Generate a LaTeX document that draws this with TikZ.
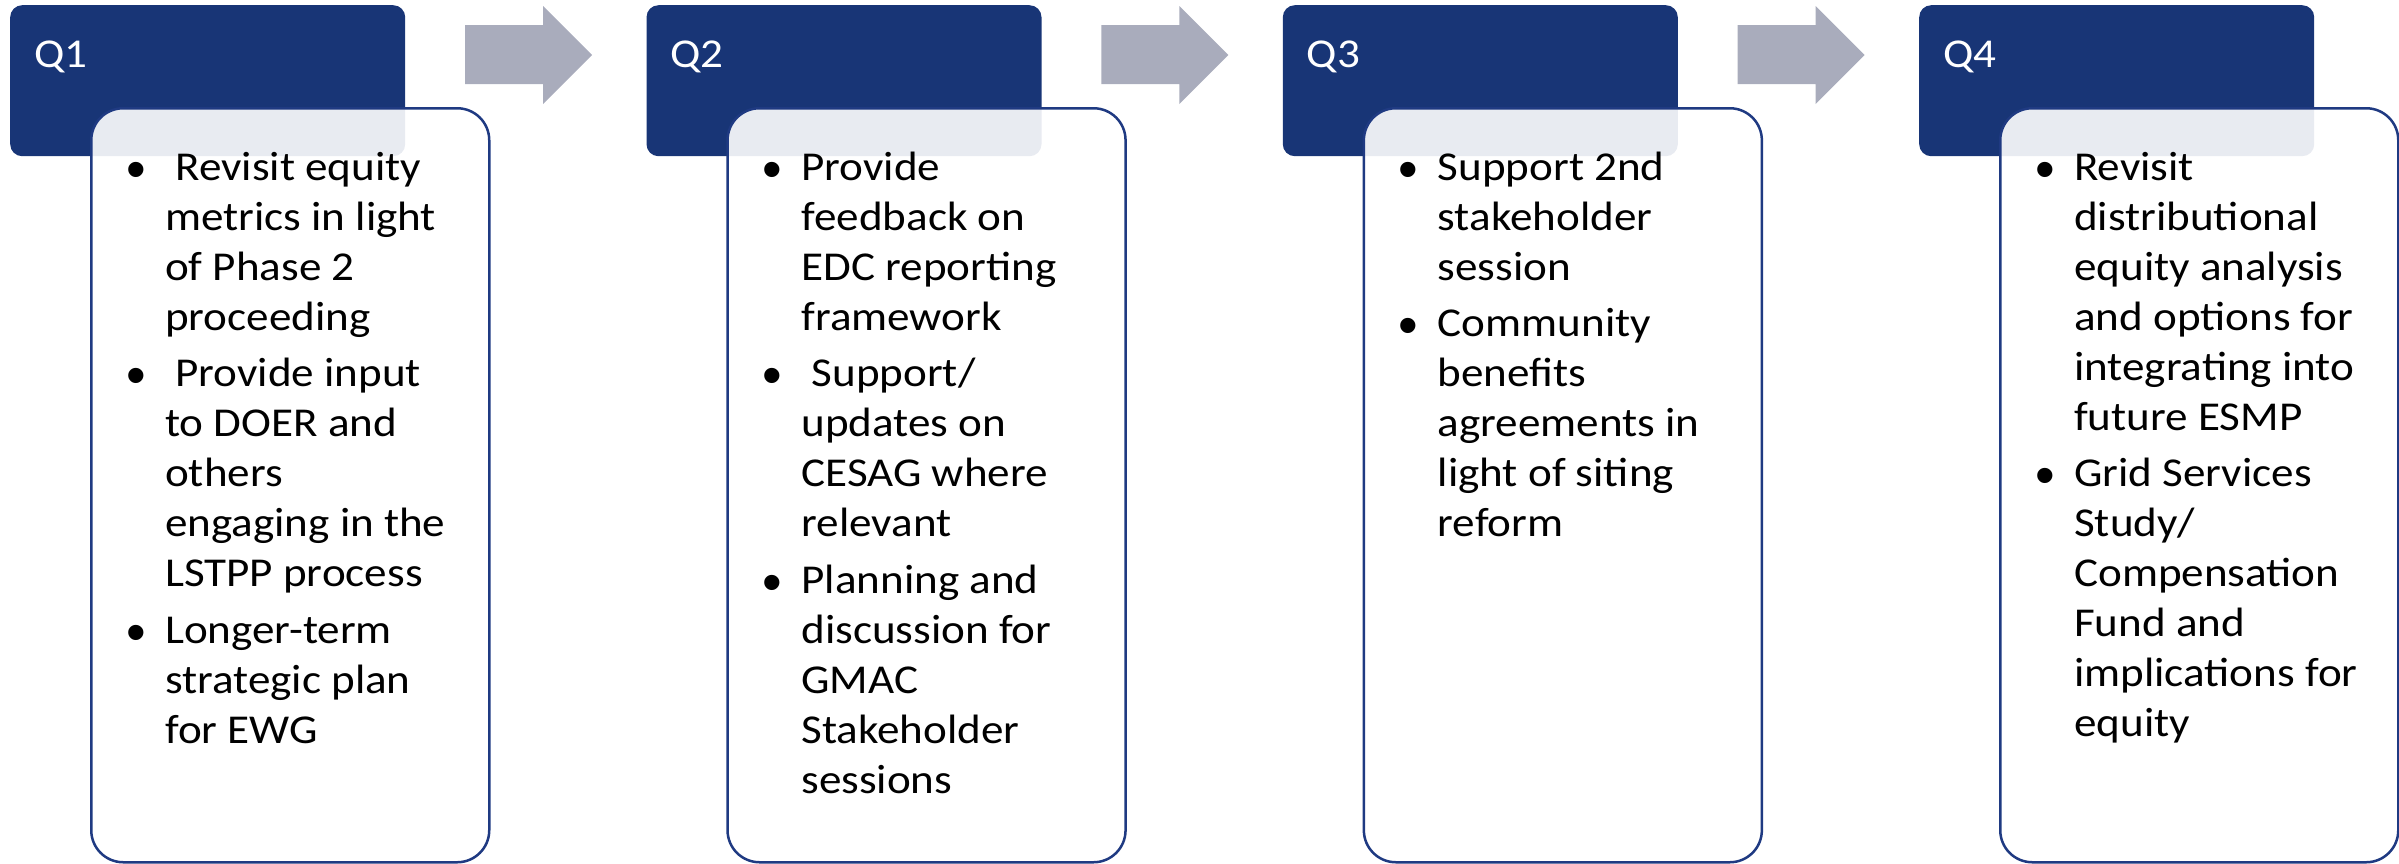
\documentclass[tikz,border=0pt]{standalone}
\usepackage{fontspec}
\setmainfont{Carlito}
\newfontfamily\bodyfont[FakeStretch=1.1]{Carlito}
\newfontfamily\bulletfont{Liberation Sans}
\definecolor{navy}{RGB}{24,53,118}
\definecolor{navyline}{RGB}{31,58,130}
\definecolor{arrowgray}{RGB}{169,172,188}
\tikzset{
  header/.style={fill=navy, rounded corners=12pt, anchor=north west, minimum width=395pt, minimum height=151pt, inner sep=0pt},
  card/.style={draw=navyline, line width=2.5pt, fill=white, fill opacity=0.9, rounded corners=32pt, anchor=north west, minimum width=398pt, minimum height=754pt, inner sep=0pt},
  txt/.style={anchor=base west, inner sep=0pt, font=\bodyfont\fontsize{41}{50}\selectfont, text=black},
  dot/.style={anchor=base west, inner sep=0pt, yshift=-8pt, font=\bulletfont\fontsize{56}{60}\selectfont, text=black},
  qlabel/.style={anchor=base west, inner sep=0pt, font=\bodyfont\fontsize{41}{48}\selectfont, text=white},
  flow/.style={fill=arrowgray},
}
\begin{document}
\begin{tikzpicture}[x=1pt,y=-1pt]
\useasboundingbox (0,0) rectangle (2399,863);
% arrows
\foreach \s in {0,636.3,1272.6}{
  \fill[flow, xshift=\s pt] (465,25) -- (543,25) -- (543,6) -- (592,55) -- (543,104) -- (543,84) -- (465,84) -- cycle;
}
% headers and cards
\foreach \i/\hx in {1/10,2/646.3,3/1282.6,4/1919}{
  \node[header] (h\i) at (\hx,5) {};
  \node[qlabel] (q\i) at (\hx+24,67) {Q\i};
  \node[card] (c\i) at (\hx+80,107) {};
}
% Q1 text
\node[dot] (b1a) at (126,180) {•};
\foreach \t [count=\k] in {{\ Revisit equity},metrics in light,of Phase 2,proceeding}
  \node[txt] (t1a\k) at (165,{180+50*(\k-1)}) {\t};
\node[dot] (b1b) at (126,386.5) {•};
\foreach \t [count=\k] in {{\ Provide input},to DOER and,others,engaging in the,LSTPP process}
  \node[txt] (t1b\k) at (165,{386.5+50*(\k-1)}) {\t};
\node[dot] (b1c) at (126,643) {•};
\foreach \t [count=\k] in {Longer-term,strategic plan,for EWG}
  \node[txt] (t1c\k) at (165,{643+50*(\k-1)}) {\t};
% Q2 text
\node[dot] (b2a) at (762.3,180) {•};
\foreach \t [count=\k] in {Provide,feedback on,EDC reporting,framework}
  \node[txt] (t2a\k) at (801.3,{180+50*(\k-1)}) {\t};
\node[dot] (b2b) at (762.3,386.5) {•};
\foreach \t [count=\k] in {{\ Support/},updates on,CESAG where,relevant}
  \node[txt] (t2b\k) at (801.3,{386.5+50*(\k-1)}) {\t};
\node[dot] (b2c) at (762.3,593) {•};
\foreach \t [count=\k] in {Planning and,discussion for,GMAC,Stakeholder,sessions}
  \node[txt] (t2c\k) at (801.3,{593+50*(\k-1)}) {\t};
% Q3 text
\node[dot] (b3a) at (1398.6,180) {•};
\foreach \t [count=\k] in {Support 2nd,stakeholder,session}
  \node[txt] (t3a\k) at (1437.6,{180+50*(\k-1)}) {\t};
\node[dot] (b3b) at (1398.6,336.5) {•};
\foreach \t [count=\k] in {Community,benefits,agreements in,light of siting,reform}
  \node[txt] (t3b\k) at (1437.6,{336.5+50*(\k-1)}) {\t};
% Q4 text
\node[dot] (b4a) at (2035,180) {•};
\foreach \t [count=\k] in {Revisit,distributional,equity analysis,and options for,integrating into,future ESMP}
  \node[txt] (t4a\k) at (2074,{180+50*(\k-1)}) {\t};
\node[dot] (b4b) at (2035,486.5) {•};
\foreach \t [count=\k] in {Grid Services,Study/,Compensation,Fund and,implications for,equity}
  \node[txt] (t4b\k) at (2074,{486.5+50*(\k-1)}) {\t};
\end{tikzpicture}
\end{document}
